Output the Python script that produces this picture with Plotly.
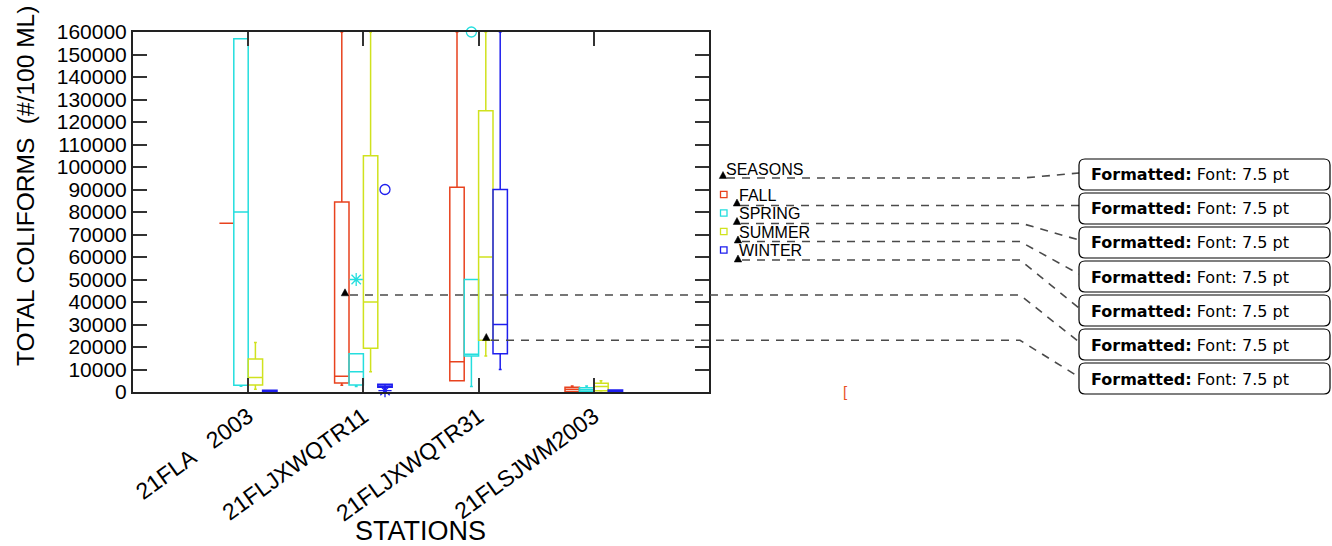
import plotly.graph_objects as go

# ---------------------------------------------------------------- data
stations = ["21FLA   2003", "21FLJXWQTR11", "21FLJXWQTR31", "21FLSJWM2003"]
seasons = ["FALL", "SPRING", "SUMMER", "WINTER"]
season_colors = ["#e8421e", "#24dede", "#d0e21e", "#1e1eee"]

# five-number summaries: one row per season, one column per station
low_fence = [
    [75000, 3000, 5000, 150],
    [2600, 2400, 2400, 150],
    [1200, 9000, 16000, 400],
    [300, 1600, 10000, 0],
]
q1 = [
    [75000, 4000, 5000, 200],
    [3000, 3100, 16000, 200],
    [3100, 19500, 23000, 600],
    [300, 2100, 17000, 100],
]
median = [
    [75000, 7000, 13500, 1200],
    [80000, 9000, 16800, 1000],
    [6400, 40000, 60000, 2400],
    [500, 2700, 30000, 400],
]
q3 = [
    [75000, 84500, 91000, 2100],
    [157000, 17000, 50000, 1900],
    [14700, 105000, 125000, 3900],
    [800, 3400, 90000, 900],
]
high_fence = [
    [75000, 160000, 160000, 2700],
    [157000, 17000, 50000, 2700],
    [22000, 160000, 160000, 5000],
    [800, 3400, 160000, 900],
]

# points beyond the whiskers
outlier_season = ["SPRING", "WINTER", "WINTER", "SPRING"]
outlier_station = ["21FLJXWQTR11", "21FLJXWQTR11", "21FLJXWQTR11", "21FLJXWQTR31"]
outlier_value = [50000, 90000, 600, 160000]
outlier_kind = ["extreme", "outlier", "extreme", "outlier"]

y_ticks = list(range(0, 160001, 10000))
comment_text = "<b>Formatted:</b> Font: 7.5 pt"

# ---------------------------------------------------------------- geometry
W, H = 1332, 546
PL, PR, PT, PB = 133, 709, 32, 392
BOX_W = 0.125
FONT = "Liberation Sans, Arial"


def px(x):
    return x / W


def py(y):
    return 1 - y / H


def season_offset(k):
    return (k - (len(seasons) - 1) / 2) * BOX_W


fig = go.Figure()

for k, season in enumerate(seasons):
    fig.add_trace(go.Box(
        x=[i + season_offset(k) for i in range(len(stations))],
        q1=q1[k], median=median[k], q3=q3[k],
        lowerfence=low_fence[k], upperfence=high_fence[k],
        width=BOX_W, whiskerwidth=0.2,
        boxpoints=False,
        line=dict(color=season_colors[k], width=1.5),
        fillcolor="rgba(0,0,0,0)",
        name=season, showlegend=False, hoverinfo="skip",
    ))

symbols = {"outlier": "circle-open", "extreme": "asterisk-open"}
for s, st, v, kind in zip(outlier_season, outlier_station, outlier_value, outlier_kind):
    k = seasons.index(s)
    fig.add_trace(go.Scatter(
        x=[stations.index(st) + season_offset(k)], y=[v],
        mode="markers",
        marker=dict(symbol=symbols[kind], size=10 if kind == "outlier" else 11,
                    color=season_colors[k], line=dict(color=season_colors[k], width=1.3)),
        showlegend=False, hoverinfo="skip", cliponaxis=False,
    ))

fig.update_xaxes(
    domain=[px(PL), px(PR)], range=[-1, len(stations)],
    tickvals=list(range(len(stations))),
    ticktext=[s.replace(" ", "\u00a0") for s in stations],
    tickangle=-36, tickfont=dict(family=FONT, size=23, color="black"),
    ticks="inside", ticklen=14, tickwidth=2, tickcolor="#333",
    showline=True, linecolor="#222", linewidth=2, mirror="allticks",
    showgrid=False, zeroline=False, automargin=False,
)
fig.update_yaxes(
    domain=[py(PB), py(PT)], range=[0, 160000],
    tickvals=y_ticks, ticktext=[str(v) for v in y_ticks],
    tickfont=dict(family=FONT, size=21, color="black"),
    ticks="inside", ticklen=14, tickwidth=2, tickcolor="#333",
    showline=True, linecolor="#222", linewidth=2, mirror="allticks",
    showgrid=False, zeroline=False, automargin=False,
)

shapes = []
annotations = []


def label(x, y, text, size, xanchor="center", **kw):
    annotations.append(dict(
        x=px(x), y=py(y), xref="paper", yref="paper",
        xanchor=xanchor, yanchor="middle", text=text, showarrow=False,
        font=dict(family=kw.pop("family", FONT), size=size, color=kw.pop("color", "black")),
        **kw,
    ))


# axis titles
label(25, 186, "TOTAL COLIFORMS\u00a0\u00a0(#/100 ML)", 24.5, textangle=-90)
label(420, 531, "STATIONS", 27)


def triangle(cx, cy, w=7.5, h=7):
    path = "M {:.5f},{:.5f} L {:.5f},{:.5f} L {:.5f},{:.5f} Z".format(
        px(cx - w / 2), py(cy + h / 2), px(cx + w / 2), py(cy + h / 2), px(cx), py(cy - h / 2))
    return dict(type="path", path=path, xref="paper", yref="paper",
                fillcolor="black", line=dict(color="black", width=0.5), layer="above")


def leader(points):
    path = "M " + " L ".join("{:.5f},{:.5f}".format(px(x), py(y)) for x, y in points)
    return dict(type="path", path=path, xref="paper", yref="paper",
                line=dict(color="#4a4a4a", width=1.6, dash="8px,7px"), layer="above")


def rounded_box(x0, y0, x1, y1, r=6):
    pts = [
        ("M", [(x0 + r, y0)]), ("L", [(x1 - r, y0)]), ("Q", [(x1, y0), (x1, y0 + r)]),
        ("L", [(x1, y1 - r)]), ("Q", [(x1, y1), (x1 - r, y1)]), ("L", [(x0 + r, y1)]),
        ("Q", [(x0, y1), (x0, y1 - r)]), ("L", [(x0, y0 + r)]), ("Q", [(x0, y0), (x0 + r, y0)]),
    ]
    path = " ".join(c + " " + " ".join("{:.5f},{:.5f}".format(px(a), py(b)) for a, b in p)
                    for c, p in pts) + " Z"
    return dict(type="path", path=path, xref="paper", yref="paper",
                fillcolor="white", line=dict(color="black", width=1.2), layer="above")


# seasons key
label(724, 169, "SEASONS", 16, xanchor="left")
key_rows = [194.5, 213, 231.5, 250]
for k, season in enumerate(seasons):
    yc = key_rows[k]
    shapes.append(dict(type="rect", xref="paper", yref="paper",
                       x0=px(720.5), x1=px(727), y0=py(yc + 3.2), y1=py(yc - 3.2),
                       line=dict(color=season_colors[k], width=1.3)))
    label(737, yc + 0.5, season, 16, xanchor="left")

# comment anchors and leader lines
anchors = [(723, 175), (737, 202.5), (737, 221), (738, 239.5), (738, 258.5), (345, 292.3), (486.3, 337)]
leaders = [
    [(727, 178), (1023, 178), (1079, 173)],
    [(741, 205.5), (1079, 205.5)],
    [(741, 223.5), (1022, 223.5), (1079, 240)],
    [(742, 241.5), (1020, 241.5), (1079, 274)],
    [(742, 260), (1020, 260), (1079, 308)],
    [(350, 295), (1020, 295), (1079, 342)],
    [(491, 340.3), (1020, 340.3), (1079, 377)],
]
for pts in leaders:
    shapes.append(leader(pts))
for cx, cy in anchors:
    shapes.append(triangle(cx, cy))

# comment balloons
balloon_tops = [159, 193, 227, 261, 295, 329, 363]
for top in balloon_tops:
    shapes.append(rounded_box(1079, top, 1330, top + 31))
    label(1089, top + 16, comment_text, 16, xanchor="left", family="DejaVu Sans")

label(846, 391, "[", 15, color="#e8501e")

fig.update_layout(
    width=W, height=H, autosize=False,
    margin=dict(l=0, r=0, t=0, b=0),
    paper_bgcolor="white", plot_bgcolor="white",
    shapes=shapes, annotations=annotations,
    showlegend=False,
)

fig.write_html("out.html")
